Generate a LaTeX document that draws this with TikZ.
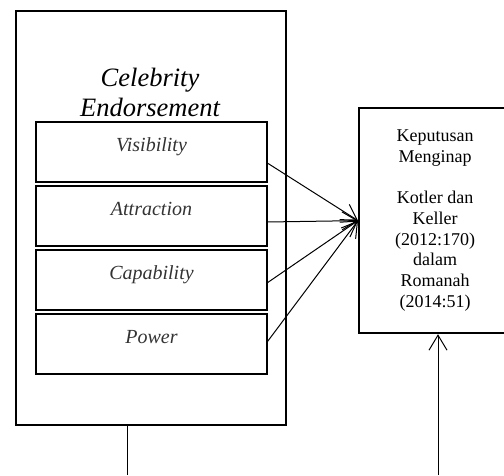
\documentclass[tikz,border=0pt]{standalone}
\usepackage{fontspec}
\setmainfont{Liberation Serif}
\usetikzlibrary{arrows.meta,positioning,calc}
\tikzset{
  frm/.style={draw, line width=2.4pt, inner sep=0pt},
  dim/.style={draw, line width=2.8pt, outer sep=0pt, minimum width=231pt, minimum height=60pt, inner sep=4pt,
    text height=25pt, text depth=27pt, font=\fontsize{20}{24}\selectfont\itshape, text=black!80},
  res/.style={draw, line width=2.2pt, align=center, font=\fontsize{18}{20.7}\selectfont},
  arr/.style={-{Straight Barb[length=15pt,width=18pt]}, line width=1pt},
}

\begin{document}
\begin{tikzpicture}[x=1pt,y=-1pt,node distance=4pt]
  \clip (0,0) rectangle (504,475);
  % celebrity endorsement block
  \node[frm, minimum width=270pt, minimum height=414pt, anchor=north west] (ce) at (15,10) {};
  \node[font=\fontsize{26.5}{30}\selectfont\itshape, align=center] (ttl) at (150,92) {Celebrity\\Endorsement};
  \node[dim, anchor=north west] (vis) at (36,122) {Visibility};
  \node[dim, below=of vis] (att) {Attraction};
  \node[dim, below=of att] (cap) {Capability};
  \node[dim, below=of cap] (pow) {Power};

  % decision block
  \node[res, minimum width=152pt, minimum height=225pt, anchor=north west] (km) at (358,107)
    {Keputusan\\Menginap\\[20.7pt]Kotler dan\\Keller\\(2012:170)\\dalam\\Romanah\\(2014:51)};

  \foreach \b/\f in {vis/0.68,att/0.6,cap/0.55,pow/0.47}
    \draw[arr] ($(\b.north east)!\f!(\b.south east)$) -- (km.west);

  \coordinate (bl) at (127,475);
  \coordinate (br) at (438,475);
  \draw[line width=1pt] (bl |- ce.south) -- (bl);
  \draw[arr] (br) -- (br |- km.south);
\end{tikzpicture}
\end{document}
